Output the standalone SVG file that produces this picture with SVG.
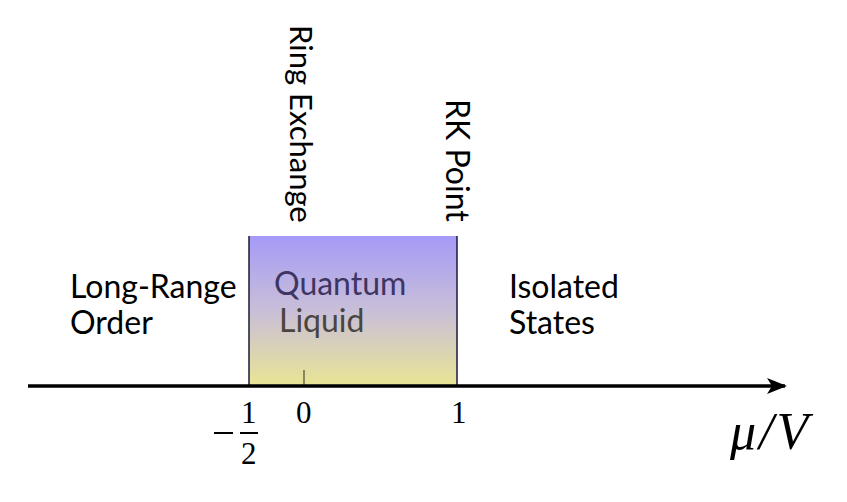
<svg xmlns="http://www.w3.org/2000/svg" width="847" height="502" viewBox="0 0 847 502">
<defs>
<linearGradient id="g" x1="0" y1="0" x2="0" y2="1">
<stop offset="0" stop-color="#a59af7"/>
<stop offset="0.5" stop-color="#c9bfd8"/>
<stop offset="1" stop-color="#e9e594"/>
</linearGradient>
<marker id="arr" viewBox="0 0 20 16" refX="18" refY="8" markerWidth="20" markerHeight="16" markerUnits="userSpaceOnUse" orient="auto">
<path d="M0,0 L20,8 L0,16 L5,8 Z" fill="#000"/>
</marker>
</defs>
<style>
.lbl{font-family:"Gill Sans","Lato","Open Sans",sans-serif;font-size:32px;fill:#000}
.math{font-family:"Liberation Serif","DejaVu Serif",serif;font-size:31px;fill:#000}
</style>
<g id="region">
<rect x="249" y="236" width="208" height="150" fill="url(#g)"/>
<line x1="249" y1="236" x2="249" y2="386" stroke="#1a1a30" stroke-width="1.5"/>
<line x1="457" y1="236" x2="457" y2="386" stroke="#1a1a40" stroke-width="1.5"/>
<line x1="304" y1="370" x2="304" y2="386" stroke="#4a4a30" stroke-width="1.2"/>
<text class="lbl" x="274" y="295" style="fill:#3d3562">Quantum</text>
<text class="lbl" x="279" y="332" style="fill:#4a4540">Liquid</text>
</g>
<g id="connectors">
<line x1="28" y1="386" x2="785" y2="386" stroke="#000" stroke-width="3.5" marker-end="url(#arr)"/>
</g>
<g id="left">
<text class="lbl" x="70" y="298">Long-Range</text>
<text class="lbl" x="70" y="334">Order</text>
</g>
<g id="right">
<text class="lbl" x="509" y="298">Isolated</text>
<text class="lbl" x="509" y="334">States</text>
</g>
<g id="ring">
<text class="lbl" transform="translate(290,25) rotate(90)" style="font-size:31px">Ring Exchange</text>
</g>
<g id="rk">
<text class="lbl" transform="translate(446,99) rotate(90)">RK Point</text>
</g>
<g id="ticks">
<text class="math" x="296" y="423">0</text>
<text class="math" x="451" y="423">1</text>
<line x1="214" y1="433" x2="233" y2="433" stroke="#000" stroke-width="2"/>
<text class="math" x="241" y="423">1</text>
<line x1="240" y1="433" x2="258" y2="433" stroke="#000" stroke-width="2"/>
<text class="math" x="241" y="464">2</text>
<text x="730" y="449" style="font-family:'Liberation Serif','DejaVu Serif',serif;font-size:52px;font-style:italic;letter-spacing:3px">μ/V</text>
</g>
</svg>
